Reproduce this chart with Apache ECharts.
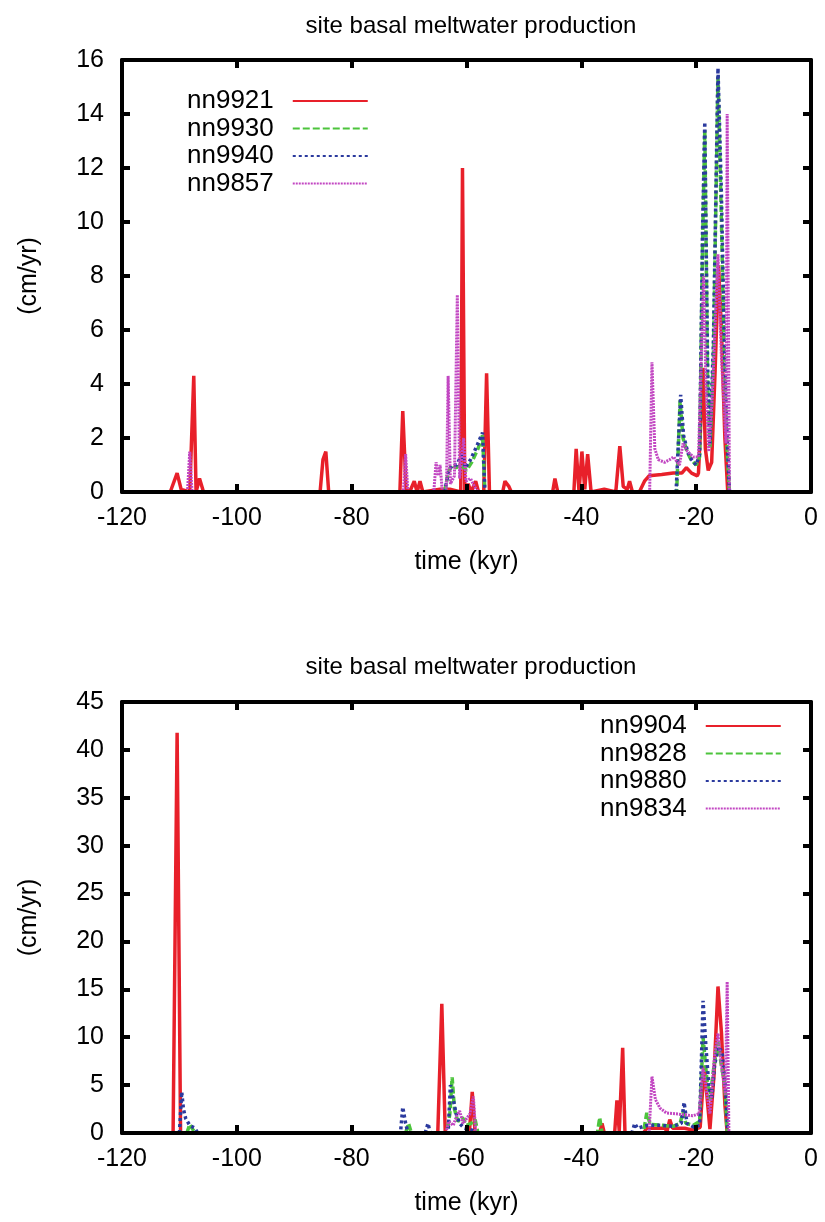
<!DOCTYPE html>
<html>
<head>
<meta charset="utf-8">
<script src="https://cdn.jsdelivr.net/npm/echarts@6/dist/echarts.min.js"></script>
<style>html,body{margin:0;padding:0;background:#fff}#c{width:825px;height:1222px}</style>
</head>
<body>
<div id="c"></div>
<script>
// ---------- data (time in kyr, meltwater in cm/yr) ----------
var chartTitle = 'site basal meltwater production';
var xTicks = [-120, -100, -80, -60, -40, -20, 0];

// top panel
var t_nn9921 = [-111.6,-110.4,-109.7,-108.2,-107.5,-107.1,-106.5,-105.8,-85.5,-85.0,-84.5,-84.0,-71.6,-71.1,-70.5,-69.7,-69.1,-68.6,-68.1,-67.6,-64.6,-62.9,-61.0,-60.7,-60.3,-59.7,-59.2,-58.4,-57.9,-57.0,-56.5,-56.0,-53.7,-53.3,-52.6,-52.2,-45.0,-44.6,-44.1,-41.3,-40.9,-40.4,-39.9,-39.4,-38.9,-38.3,-36.0,-34.0,-33.8,-33.3,-32.7,-32.0,-31.6,-31.1,-29.9,-29.0,-28.2,-26.0,-24.0,-22.5,-21.7,-20.8,-19.8,-19.6,-19.1,-18.8,-18.4,-17.9,-17.3,-16.7,-16.1,-15.6,-15.0,-14.5];
var v_nn9921 = [0,0.7,0.1,0,4.3,0,0.5,0,0,1.2,1.5,0,0,3.0,0,0.1,0.4,0,0.4,0,0.1,0.1,0,12.0,0,0.3,0,0.4,0,0,4.4,0,0,0.4,0.2,0,0,0.5,0,0,1.6,0,1.5,0.1,1.4,0,0.1,0,0,1.7,0.2,0.1,0.4,0,0,0.4,0.6,0.65,0.7,0.7,0.9,0.7,0.6,0.7,3.0,4.6,1.6,0.8,1.1,4.5,8.4,6.0,2.0,0];

var t_nn9930 = [-63.8,-63.2,-62.6,-61.8,-60.9,-60.0,-59.1,-58.0,-57.2,-56.8,-23.4,-22.8,-22.3,-21.6,-20.9,-20.0,-19.4,-18.9,-18.5,-18.0,-17.6,-17.0,-16.2,-15.6,-15.0,-14.6,-14.2];
var v_nn9930 = [0,0.7,1.0,0.9,1.0,0.8,1.1,1.6,2.1,0,0,3.4,2.0,1.5,1.2,1.0,1.3,9.0,13.4,4.0,1.6,5.0,15.4,10.0,4.0,1.5,0];

var t_nn9940 = [-63.8,-63.1,-62.4,-61.7,-60.8,-60.2,-59.3,-58.2,-57.2,-56.8,-23.5,-22.7,-22.2,-21.5,-20.8,-20.0,-19.4,-18.9,-18.5,-18.0,-17.6,-17.0,-16.2,-15.6,-15.0,-14.6,-14.2];
var v_nn9940 = [0,0.8,1.0,1.0,1.4,0.9,1.2,1.7,2.2,0,0,3.6,2.1,1.5,1.2,1.0,1.4,9.5,13.7,4.5,1.8,5.5,15.7,11.0,4.5,2.0,0];

var t_nn9857 = [-108.6,-108.2,-107.8,-71.0,-70.6,-70.2,-65.7,-65.3,-64.9,-64.6,-64.2,-63.5,-63.2,-62.8,-62.1,-61.6,-61.2,-60.5,-60.1,-59.3,-58.6,-58.0,-28.1,-27.7,-27.2,-26.6,-25.5,-24.6,-23.9,-23.3,-22.9,-22.3,-21.5,-20.5,-19.6,-19.1,-18.7,-18.3,-17.8,-17.2,-16.2,-15.6,-15.1,-14.8,-14.6,-14.2];
var v_nn9857 = [0,1.5,0,0,1.4,0,0,1.1,0.6,1.0,0,0,4.3,0.3,0.6,7.3,0.5,2.0,0.4,0.5,0.2,0,0,4.8,1.6,1.2,1.1,1.2,1.3,1.1,1.0,1.8,1.5,1.3,1.3,5.0,8.0,4.0,1.5,3.5,8.8,5.0,3.0,1.8,14.0,0];

// bottom panel
var t_nn9904 = [-111.1,-110.4,-109.8,-65.0,-64.3,-63.7,-59.5,-59.0,-58.5,-36.8,-36.4,-36.0,-34.2,-33.8,-33.4,-32.8,-32.4,-29.2,-28.6,-27.0,-25.4,-25.1,-24.6,-24.1,-22.0,-20.6,-19.3,-18.6,-17.6,-16.9,-16.2,-15.6,-15.0,-14.6];
var v_nn9904 = [0,41.8,0,0,13.5,0,0,4.3,0,0,1.0,0,0,3.4,0.2,8.9,0,0,0.5,0.5,0.5,0.1,1.4,0.5,0.5,0.3,0.6,7.0,0.4,6.0,15.3,10.5,3.0,0];

var t_nn9828 = [-108.7,-108.2,-107.6,-107.0,-70.6,-70.1,-69.6,-63.4,-62.9,-62.5,-62.1,-61.5,-60.7,-60.0,-59.2,-58.5,-58.0,-37.2,-36.8,-36.4,-29.2,-28.6,-28.0,-26.0,-24.0,-22.8,-22.3,-21.8,-20.5,-19.4,-18.8,-18.2,-17.6,-16.9,-16.2,-15.6,-15.0,-14.6];
var v_nn9828 = [0,0.9,0.3,0,0,1.0,0,0,2.0,5.8,2.5,1.2,1.6,0.8,1.0,1.4,0,0,1.6,0,0,2.1,0.9,0.8,0.7,1.0,2.2,1.0,0.8,1.2,10.0,6.0,3.5,7.0,9.5,7.0,5.0,0];

var t_nn9880 = [-110.0,-109.6,-109.3,-108.9,-108.2,-107.3,-106.8,-71.5,-71.1,-70.6,-70.2,-67.2,-66.7,-66.3,-63.2,-62.8,-62.3,-61.8,-61.2,-60.4,-59.0,-58.2,-31.2,-30.7,-30.2,-28.5,-26.0,-24.0,-22.6,-22.1,-21.6,-20.4,-19.4,-18.8,-18.3,-17.8,-17.3,-16.8,-16.2,-15.5,-14.9,-14.5];
var v_nn9880 = [0,4.3,2.5,1.5,0.8,0.5,0,0,2.7,1.0,0,0,1.0,0,0,5.0,3.5,2.0,1.0,0.5,0.3,0,0,1.0,0.5,0.8,0.8,0.7,1.0,3.2,1.0,0.6,0.8,13.8,9.0,5.0,3.5,7.0,9.0,8.5,5.0,0];

var t_nn9834 = [-63.6,-63.1,-62.3,-61.7,-61.2,-60.6,-60.0,-59.4,-58.8,-58.4,-28.2,-27.7,-27.1,-26.3,-25.2,-23.5,-22.0,-20.6,-19.5,-18.8,-17.6,-16.8,-16.2,-15.6,-14.9,-14.6,-14.3];
var v_nn9834 = [0,1.2,0.8,1.8,2.3,1.0,1.5,2.0,3.8,0,0,5.9,3.5,2.6,2.1,2.0,1.9,1.8,2.0,6.8,2.0,8.0,10.4,7.0,4.0,15.8,0];

var topNames = ['nn9921','nn9930','nn9940','nn9857'];
var botNames = ['nn9904','nn9828','nn9880','nn9834'];
var colors = ['#e8202a','#4cc43c','#2b3a9e','#c247c2'];

// ---------- build ----------
function zip(t, v){ var o=[]; for(var i=0;i<t.length;i++) o.push([t[i], v[i]]); return o; }
var styles = [
  {type:'solid', width:3.5},
  {type:[7,3], width:3.5},
  {type:[3,3], width:3.5},
  {type:[2,1], width:3}
];
function mkSeries(name, data, k, gi){
  return {
    name:name, type:'line', data:data, xAxisIndex:gi*2, yAxisIndex:gi*2,
    symbol:'none', showSymbol:false, animation:false,
    lineStyle:{color:colors[k], width:styles[k].width, type:styles[k].type},
    itemStyle:{color:colors[k]}
  };
}
var FONT = 'Liberation Sans, Arial, Helvetica, sans-serif';
function xAx(gi, pos){
  var main = pos === 'bottom';
  return {
    type:'value', gridIndex:gi, position:pos, min:-120, max:0, interval:20, z:10,
    axisLine:{show:true, onZero:false, lineStyle:{color:'#000', width:4}},
    axisTick:{show:true, inside:true, length:8, lineStyle:{color:'#000', width:4}},
    axisLabel:{show:main, color:'#000', fontSize:25, fontFamily:FONT, margin:14},
    splitLine:{show:false},
    name: main ? 'time (kyr)' : '', nameLocation:'middle', nameGap:58,
    nameTextStyle:{color:'#000', fontSize:25, fontFamily:FONT}
  };
}
function yAx(gi, pos, max, iv){
  var main = pos === 'left';
  return {
    type:'value', gridIndex:gi, position:pos, min:0, max:max, interval:iv, z:10,
    axisLine:{show:true, onZero:false, lineStyle:{color:'#000', width:4}},
    axisTick:{show:true, inside:true, length:8, lineStyle:{color:'#000', width:4}},
    axisLabel:{show:main, color:'#000', fontSize:25, fontFamily:FONT, margin:18},
    splitLine:{show:false},
    name: main ? '(cm/yr)' : '', nameLocation:'middle', nameGap:80,
    nameTextStyle:{color:'#000', fontSize:25, fontFamily:FONT}
  };
}
function legendOf(names, left, top){
  return {
    data:names, orient:'vertical', left:left, top:top, align:'right',
    itemWidth:75, itemHeight:20, itemGap:1.5,
    itemStyle:{color:'rgba(0,0,0,0)', borderColor:'rgba(0,0,0,0)', borderWidth:0, opacity:0},
    textStyle:{color:'#000', fontSize:26, fontFamily:FONT, lineHeight:24, padding:[0,14,0,0]}
  };
}

var series = [
  mkSeries('nn9921', zip(t_nn9921, v_nn9921), 0, 0),
  mkSeries('nn9930', zip(t_nn9930, v_nn9930), 1, 0),
  mkSeries('nn9940', zip(t_nn9940, v_nn9940), 2, 0),
  mkSeries('nn9857', zip(t_nn9857, v_nn9857), 3, 0),
  mkSeries('nn9904', zip(t_nn9904, v_nn9904), 0, 1),
  mkSeries('nn9828', zip(t_nn9828, v_nn9828), 1, 1),
  mkSeries('nn9880', zip(t_nn9880, v_nn9880), 2, 1),
  mkSeries('nn9834', zip(t_nn9834, v_nn9834), 3, 1)
];

var chart = echarts.init(document.getElementById('c'), null, {renderer:'canvas'});
chart.setOption({
  animation:false,
  backgroundColor:'#fff',
  title:[
    {text:chartTitle, left:466, top:9, textAlign:'center', textStyle:{color:'#000', fontSize:24, fontWeight:'normal', fontFamily:FONT}},
    {text:chartTitle, left:466, top:650, textAlign:'center', textStyle:{color:'#000', fontSize:24, fontWeight:'normal', fontFamily:FONT}}
  ],
  legend:[ legendOf(topNames, 182, 83), legendOf(botNames, 595, 708) ],
  grid:[
    {left:122, right:14, top:60, height:432},
    {left:122, right:14, top:702, height:431}
  ],
  xAxis:[ xAx(0,'bottom'), xAx(0,'top'), xAx(1,'bottom'), xAx(1,'top') ],
  yAxis:[ yAx(0,'left',16,2), yAx(0,'right',16,2), yAx(1,'left',45,5), yAx(1,'right',45,5) ],
  series:series
});
</script>
</body>
</html>
